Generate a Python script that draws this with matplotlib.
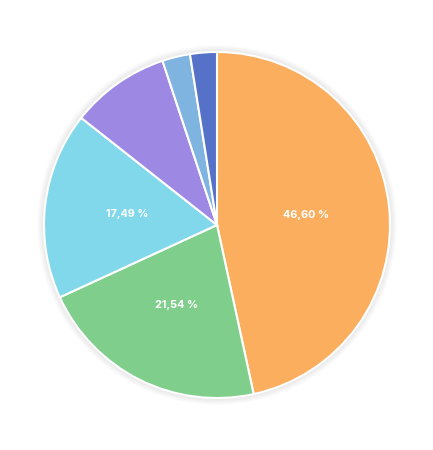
import matplotlib
matplotlib.use("Agg")
import matplotlib.pyplot as plt
from matplotlib.patches import Circle
import numpy as np

labels = ["A", "B", "C", "D", "E", "F"]
values = [46.60, 21.54, 17.49, 9.27, 2.60, 2.50]
colors = ["#FBAE5E", "#7FCE8C", "#80D8EA", "#9D89E4", "#7FB3E0", "#5672C8"]
shown = [True, True, True, False, False, False]

W, H = 433, 450
fig = plt.figure(figsize=(W/100, H/100), dpi=100)
cx, cy, r = 217, 225, 173
ax = fig.add_axes([(cx - r - 10)/W, 1 - (cy + r + 10)/H, 2*(r + 10)/W, 2*(r + 10)/H])
ax.axis("off")

# soft shadow
for i in range(8):
    ax.add_patch(Circle((0, 0), 1.0 + 0.005*(i+1), color="black", alpha=0.012, lw=0, zorder=0))

wedges, _ = ax.pie(values, colors=colors, startangle=90, counterclock=False, radius=1.0,
                   wedgeprops=dict(edgecolor="white", linewidth=1.5))
for w in wedges:
    w.set_zorder(2)

lim = (r + 10) / r
ax.set_xlim(-lim, lim)
ax.set_ylim(-lim, lim)
ax.set_aspect("equal")

cum = 0
for v, s in zip(values, shown):
    mid = cum + v/2
    cum += v
    if not s:
        continue
    ang = np.deg2rad(90 - mid/100*360)
    x, y = 0.52*np.cos(ang), 0.52*np.sin(ang)
    ax.text(x, y, f"{v:.2f} %".replace(".", ","), ha="center", va="center",
            color="white", fontsize=7.8, fontweight="bold", family="Inter", zorder=3)

fig.savefig("out.png", dpi=100)
